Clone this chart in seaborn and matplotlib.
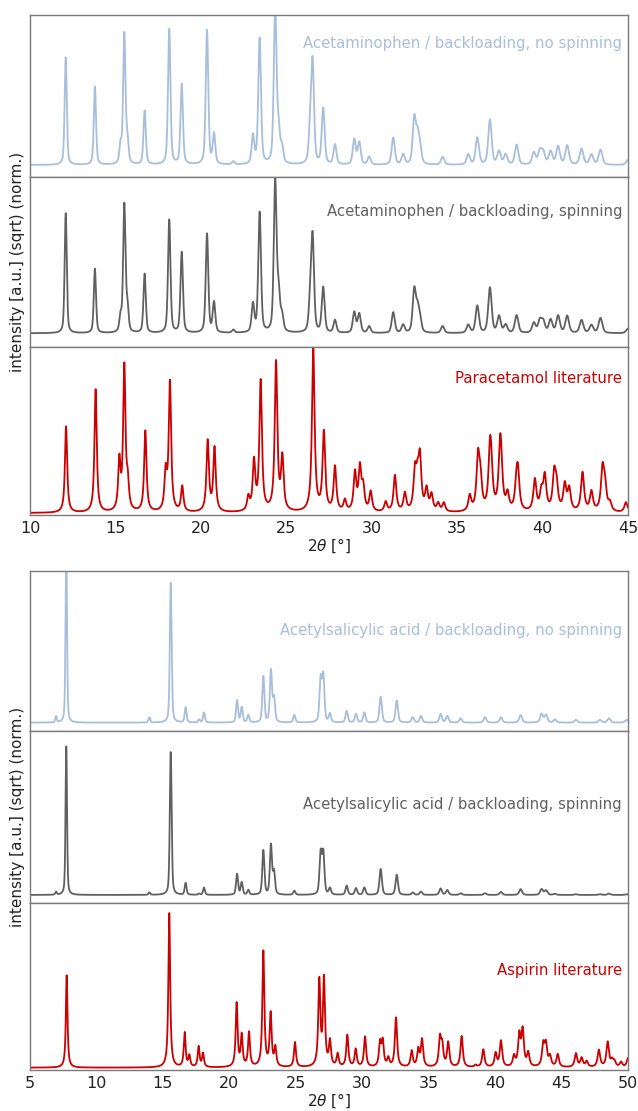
import numpy as np
import pandas as pd
import matplotlib
matplotlib.use("Agg")
import matplotlib.pyplot as plt
import seaborn as sns

# ---------------------------------------------------------------------------
# Peak tables (2theta position in degrees, normalised sqrt-intensity)
# ---------------------------------------------------------------------------
para_nospin_pos = [12.09, 13.80, 15.30, 15.52, 15.70, 16.71, 18.15, 18.88, 20.36, 20.77,
                   21.90, 23.05, 23.44, 24.35, 24.55, 24.75, 26.40, 26.54, 27.16, 27.85,
                   28.98, 29.27, 29.85, 31.26, 31.84, 32.49, 32.68, 32.82, 34.15, 35.65,
                   36.18, 36.92, 37.45, 37.84, 38.48, 39.49, 39.84, 40.04, 40.47, 40.91,
                   41.44, 42.28, 42.86, 43.39, 45.00]
para_nospin_int = [0.718, 0.522, 0.12, 0.867, 0.147, 0.36, 0.905, 0.535, 0.895, 0.20,
                   0.02, 0.187, 0.838, 1.05, 0.20, 0.10, 0.20, 0.66, 0.373, 0.133,
                   0.167, 0.147, 0.053, 0.18, 0.067, 0.30, 0.17, 0.10, 0.053, 0.067,
                   0.18, 0.30, 0.087, 0.067, 0.133, 0.08, 0.087, 0.08, 0.087, 0.12,
                   0.127, 0.107, 0.067, 0.10, 0.033]

para_spin_pos = para_nospin_pos
para_spin_int = [0.796, 0.427, 0.10, 0.845, 0.16, 0.392, 0.752, 0.535, 0.657, 0.20,
                 0.02, 0.186, 0.796, 1.0, 0.24, 0.10, 0.18, 0.62, 0.30, 0.084,
                 0.137, 0.126, 0.044, 0.137, 0.053, 0.28, 0.14, 0.08, 0.046, 0.053,
                 0.18, 0.30, 0.11, 0.053, 0.117, 0.066, 0.08, 0.073, 0.086, 0.113,
                 0.113, 0.086, 0.053, 0.10, 0.03]

para_lit_pos = [12.11, 13.84, 15.23, 15.52, 15.72, 16.75, 17.94, 18.19, 18.91, 20.40,
                20.80, 22.78, 23.11, 23.50, 24.40, 24.77, 26.58, 27.20, 27.85, 28.43,
                29.02, 29.31, 29.50, 29.94, 30.82, 31.36, 31.94, 32.53, 32.68, 32.82,
                33.21, 33.50, 33.89, 34.22, 35.74, 36.22, 36.36, 36.92, 37.00, 37.51,
                37.58, 37.95, 38.47, 38.56, 39.55, 39.93, 40.13, 40.68, 40.82, 41.30,
                41.56, 42.34, 42.86, 43.51, 43.65, 43.94, 44.88]
para_lit_int = [0.532, 0.758, 0.30, 0.885, 0.15, 0.501, 0.23, 0.795, 0.156, 0.436,
                0.392, 0.084, 0.30, 0.80, 0.916, 0.32, 1.0, 0.485, 0.275, 0.068,
                0.234, 0.26, 0.14, 0.121, 0.06, 0.224, 0.111, 0.23, 0.16, 0.31,
                0.131, 0.10, 0.049, 0.054, 0.094, 0.32, 0.18, 0.33, 0.18, 0.33,
                0.18, 0.10, 0.14, 0.21, 0.193, 0.11, 0.21, 0.22, 0.14, 0.16,
                0.135, 0.24, 0.121, 0.25, 0.14, 0.049, 0.062]

asa_nospin_pos = [6.96, 7.73, 13.98, 15.59, 16.71, 17.72, 18.09, 20.58, 20.93, 21.43,
                  22.56, 23.13, 23.36, 24.89, 26.87, 27.07, 27.57, 28.83, 29.53, 30.16,
                  31.39, 32.60, 33.80, 34.42, 35.90, 36.40, 37.41, 39.24, 40.44, 41.92,
                  43.50, 43.83, 44.50, 46.08, 47.89, 48.57, 49.90]
asa_nospin_int = [0.04, 1.15, 0.035, 0.923, 0.10, 0.02, 0.066, 0.145, 0.10, 0.05,
                  0.303, 0.34, 0.158, 0.05, 0.28, 0.30, 0.057, 0.077, 0.057, 0.066,
                  0.171, 0.145, 0.035, 0.044, 0.057, 0.044, 0.028, 0.035, 0.035, 0.05,
                  0.057, 0.05, 0.02, 0.018, 0.018, 0.028, 0.018]

asa_spin_pos = asa_nospin_pos
asa_spin_int = [0.02, 1.0, 0.016, 0.961, 0.079, 0.008, 0.049, 0.14, 0.083, 0.032,
                0.297, 0.331, 0.15, 0.027, 0.275, 0.275, 0.043, 0.061, 0.045, 0.049,
                0.174, 0.135, 0.016, 0.022, 0.043, 0.032, 0.011, 0.011, 0.02, 0.039,
                0.039, 0.03, 0.007, 0.005, 0.005, 0.009, 0.005]

asa_lit_pos = [7.76, 15.48, 16.64, 16.99, 17.69, 18.02, 20.55, 20.93, 21.48, 22.56,
               23.11, 23.46, 24.94, 26.77, 27.12, 27.57, 28.15, 28.88, 29.51, 30.21,
               31.34, 31.54, 31.96, 32.54, 33.72, 34.22, 34.50, 35.85, 36.02, 36.47,
               37.48, 38.53, 39.11, 40.04, 40.44, 41.42, 41.82, 42.07, 42.49, 43.62,
               43.82, 44.13, 44.71, 46.08, 46.51, 46.89, 47.81, 48.47, 48.80, 48.98,
               49.48, 50.00]
asa_lit_int = [0.598, 1.0, 0.222, 0.071, 0.132, 0.088, 0.411, 0.20, 0.222, 0.745,
               0.34, 0.12, 0.161, 0.55, 0.56, 0.16, 0.082, 0.205, 0.114, 0.196,
               0.15, 0.16, 0.054, 0.319, 0.103, 0.11, 0.175, 0.18, 0.13, 0.157,
               0.20, 0.013, 0.114, 0.088, 0.168, 0.067, 0.20, 0.23, 0.088, 0.14,
               0.14, 0.065, 0.082, 0.088, 0.058, 0.037, 0.11, 0.161, 0.039, 0.032,
               0.032, 0.06]

labels = ["Acetaminophen / backloading, no spinning",
          "Acetaminophen / backloading, spinning",
          "Paracetamol literature",
          "Acetylsalicylic acid / backloading, no spinning",
          "Acetylsalicylic acid / backloading, spinning",
          "Aspirin literature"]

colors = ["#a7bfda", "#606060", "#cc0000"]


def pseudo_voigt(x, pos, amp, fwhm, eta):
    """Sum of pseudo-Voigt peaks; fwhm may grow with angle."""
    y = np.zeros_like(x)
    for p, a in zip(pos, amp):
        w = fwhm(p)
        g = np.exp(-4 * np.log(2) * ((x - p) / w) ** 2)
        l = 1.0 / (1.0 + 4 * ((x - p) / w) ** 2)
        y += a * (eta * l + (1 - eta) * g)
    return y


def exp_width(p):
    return 0.14 + 0.0035 * (p - 10)


def lit_width(p):
    return 0.15 + 0.002 * (p - 10)


sns.set_style("white")
plt.rcParams["font.family"] = ["DejaVu Sans"]

fig = plt.figure(figsize=(6.38, 11.11), dpi=100)

L, W = 30 / 638, 598 / 638
H = 1111.0
# (top_px, bottom_px) of every panel
panel_px = [(15, 177), (177, 347), (347, 515), (571, 731), (731, 903), (903, 1070)]
ylims = [(-0.08, 1.0), (-0.091, 1.037), (-0.012, 1.023),
         (-0.055, 1.0), (-0.054, 1.101), (-0.015, 1.063)]
text_y = [0.827, 0.80, 0.81, 0.631, 0.57, 0.593]

series = [
    (para_nospin_pos, para_nospin_int, exp_width, 0.45, (10, 45)),
    (para_spin_pos, para_spin_int, exp_width, 0.45, (10, 45)),
    (para_lit_pos, para_lit_int, lit_width, 0.9, (10, 45)),
    (asa_nospin_pos, asa_nospin_int, exp_width, 0.45, (5, 50)),
    (asa_spin_pos, asa_spin_int, exp_width, 0.45, (5, 50)),
    (asa_lit_pos, asa_lit_int, lit_width, 0.9, (5, 50)),
]

axes = []
for i, ((top, bot), (pos, amp, wf, eta, xr)) in enumerate(zip(panel_px, series)):
    ax = fig.add_axes([L, 1 - bot / H, W, (bot - top) / H])
    axes.append(ax)
    x = np.linspace(xr[0], xr[1], 4001)
    df = pd.DataFrame({"two_theta": x, "intensity": pseudo_voigt(x, pos, amp, wf, eta)})
    sns.lineplot(data=df, x="two_theta", y="intensity", ax=ax, color=colors[i % 3],
                 lw=1.3, estimator=None, errorbar=None)
    ax.set_xlim(*xr)
    ax.set_ylim(*ylims[i])
    ax.set_yticks([])
    ax.set_ylabel("")
    ax.text(0.99, text_y[i], labels[i], transform=ax.transAxes, ha="right", va="center",
            color=colors[i % 3], fontsize=10.7)
    for s in ax.spines.values():
        s.set_color("#7a7a7a")
        s.set_linewidth(1.0)
    if i % 3 == 2:
        ax.set_xticks(np.arange(xr[0], xr[1] + 1, 5))
        ax.tick_params(axis="x", labelsize=11.5, pad=1, colors="#222222")
        ax.set_xlabel(r"2$\theta$ [°]", fontsize=11, labelpad=0, color="#222222")
    else:
        ax.set_xticks([])
        ax.set_xlabel("")

for yc in (262, 817):
    fig.text(18 / 638, 1 - yc / H, "intensity [a.u.] (sqrt) (norm.)", rotation=90,
             ha="center", va="center", fontsize=11, color="#222222")

fig.savefig("out.png", dpi=100)
